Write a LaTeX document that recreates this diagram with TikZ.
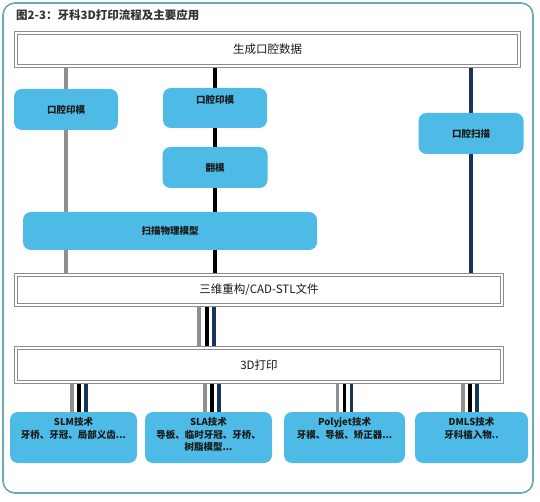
\documentclass[tikz,border=0pt]{standalone}
\usepackage{fontspec}
\usepackage{tikz}
\usetikzlibrary{calc, positioning, backgrounds}
\newfontfamily\cjk{Noto Sans CJK SC}
\definecolor{boxBlue}{HTML}{4DBBE6}
\definecolor{frameTeal}{HTML}{6AAAB2}
\definecolor{rimGray}{gray}{0.55}
\definecolor{lineGray}{gray}{0.56}
\definecolor{lineNavy}{HTML}{17355A}
\definecolor{textDark}{gray}{0.1}
\newcommand{\techlines}[1]{\begin{tabular}[t]{@{}c@{}}#1\end{tabular}}

\begin{document}
\begin{tikzpicture}[x=1pt, y=-1pt,
    flowbox/.style={draw=rimGray, line width=0.6pt, double=white, double distance=2pt, fill=white, font=\cjk\fontsize{11.5}{13}\selectfont, text=textDark},
    stepbox/.style={fill=boxBlue, rounded corners=8pt, font=\cjk\bfseries\fontsize{9.5}{11}\selectfont, text=textDark, inner sep=0pt},
    techbox/.style={stepbox, inner ysep=4pt, text height=9.5pt, text depth=33.5pt, minimum height=51, font=\cjk\bfseries\fontsize{9.5}{12.5}\selectfont},
    grayline/.style={draw=lineGray, line width=3.5pt},
    blackline/.style={draw=black, line width=3.8pt},
    navyline/.style={draw=lineNavy, line width=3.5pt}]
    \useasboundingbox (0,0) rectangle (540,502);
    \draw[frameTeal, line width=1.6pt, rounded corners=12pt] (3,3) rectangle (533,493);
    \node[anchor=west, font=\cjk\bfseries\fontsize{11.5}{13}\selectfont, text=black!80, inner sep=0pt] (title) at (16,15) {图2-3：牙科3D打印流程及主要应用};

    % data and model stages
    \node[flowbox, minimum width=503, minimum height=33] (data) at (267.5,49.5) {生成口腔数据};
    \node[stepbox, minimum width=104, minimum height=41] (imp1) at (66,109.5) {口腔印模};
    \node[stepbox, minimum width=104, minimum height=40, text height=8pt, text depth=16pt] (imp2) at (215,108) {口腔印模};
    \node[stepbox, minimum width=105, minimum height=41] (cast) at (215,167.5) {翻模};
    \node[stepbox, minimum width=294, minimum height=38] (scan) at (170,231) {扫描物理模型};
    \node[stepbox, minimum width=105, minimum height=41] (intra) at (471,133.5) {口腔扫描};
    \node[flowbox, minimum width=486, minimum height=30] (stl) at (259,290) {三维重构/CAD-STL文件};
    \node[flowbox, minimum width=486, minimum height=34] (print) at (259,365) {3D打印};
    \coordinate (join) at (207,330);

    % applications
    \node[techbox, minimum width=127] (slm) at (73.5,437.5) {\techlines{SLM技术\\牙桥、牙冠、局部义齿...}};
    \node[techbox, minimum width=127] (sla) at (208.5,437.5) {\techlines{SLA技术\\导板、临时牙冠、牙桥、\\树脂模型...}};
    \node[techbox, minimum width=121] (poly) at (344.5,437.5) {\techlines{Polyjet技术\\牙模、导板、矫正器...}};
    \node[techbox, minimum width=113] (dmls) at (471.5,437.5) {\techlines{DMLS技术\\牙科植入物..}};

    \begin{scope}[on background layer]
        \draw[grayline] (data.south -| imp1) -- (imp1.north);
        \draw[grayline] (imp1.south) -- (stl.north -| imp1);
        \draw[blackline] (data.south -| imp2) -- (imp2.north);
        \draw[blackline] (imp2.south) -- (cast.north);
        \draw[blackline] (cast.south) -- (stl.north -| cast);
        \draw[navyline] (data.south -| intra) -- (intra.north);
        \draw[navyline] (intra.south) -- (stl.north -| intra);
        \draw[grayline] ($(stl.south -| join)+(-8,0)$) -- ($(print.north -| join)+(-8,0)$);
        \draw[blackline] (stl.south -| join) -- (print.north -| join);
        \draw[navyline] ($(stl.south -| join)+(7,0)$) -- ($(print.north -| join)+(7,0)$);
        \foreach \n/\dx in {slm/5.5, sla/3.5, poly/0, dmls/-1.5} {
            \draw[grayline] ($(print.south -| \n)+(\dx-7,0)$) -- ($(\n.north)+(\dx-7,0)$);
            \draw[blackline] ($(print.south -| \n)+(\dx,0)$) -- ($(\n.north)+(\dx,0)$);
            \draw[navyline] ($(print.south -| \n)+(\dx+7,0)$) -- ($(\n.north)+(\dx+7,0)$);
        }
    \end{scope}
\end{tikzpicture}
\end{document}
